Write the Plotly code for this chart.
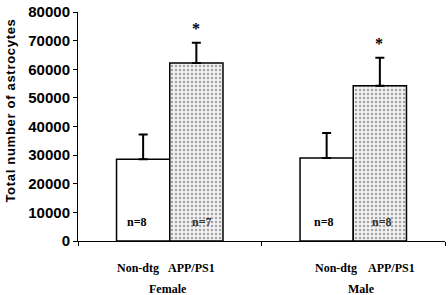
import plotly.graph_objects as go

groups = ["Female", "Male"]
nondtg_vals = [28600, 29000]
nondtg_err = [8600, 8700]
app_vals = [62200, 54200]
app_err = [7100, 9800]
n_nondtg = ["n=8", "n=8"]
n_app = ["n=7", "n=8"]
y_ticks = [0, 10000, 20000, 30000, 40000, 50000, 60000, 70000, 80000]
y_ticktext = ["0", "10000", "20000", "30000", "40000", "50000", "60000", "70000", "80000"]

serif = "Liberation Serif, Times New Roman, serif"
narrow = "Liberation Sans Narrow, Arial Narrow, Liberation Sans, Arial, sans-serif"
sans = "Liberation Sans, Arial, sans-serif"

fig = go.Figure()
fig.add_trace(go.Bar(
    x=groups, y=nondtg_vals, name="Non-dtg",
    marker=dict(color="white", line=dict(color="black", width=1.5)),
    error_y=dict(type="data", array=nondtg_err, arrayminus=[0, 0], symmetric=False,
                 color="black", thickness=2, width=4.5),
))
fig.add_trace(go.Bar(
    x=groups, y=app_vals, name="APP/PS1",
    marker=dict(color="white", line=dict(color="black", width=1.5),
                pattern=dict(shape=".", fgcolor="#555555", bgcolor="#f2f2f2", size=4, solidity=0.3)),
    error_y=dict(type="data", array=app_err, arrayminus=[0, 0], symmetric=False,
                 color="black", thickness=2, width=4.5),
))

ann = []
label_shift = {"Female": (-32, 22, -2), "Male": (-17, 38, 8)}
n_shift = {"Female": (-33, 32), "Male": (-29, 29)}
for i, g in enumerate(groups):
    s1, s2, s3 = label_shift[g]
    ann.append(dict(x=g, y=0, xref="x", yref="y", text="Non-dtg", showarrow=False,
                    xshift=s1, yshift=-27, font=dict(family=serif, size=12, color="black", weight="bold")))
    ann.append(dict(x=g, y=0, xref="x", yref="y", text="APP/PS1", showarrow=False,
                    xshift=s2, yshift=-27, font=dict(family=serif, size=12, color="black", weight="bold")))
    ann.append(dict(x=g, y=0, xref="x", yref="y", text=g, showarrow=False,
                    xshift=s3, yshift=-48, font=dict(family=serif, size=12, color="black", weight="bold")))
    a1, a2 = n_shift[g]
    ann.append(dict(x=g, y=0, xref="x", yref="y", text=n_nondtg[i], showarrow=False,
                    xshift=a1, yshift=19, font=dict(family=serif, size=12, color="black", weight="bold")))
    ann.append(dict(x=g, y=0, xref="x", yref="y", text=n_app[i], showarrow=False,
                    xshift=a2, yshift=19, font=dict(family=serif, size=12, color="#333", weight="bold")))
    ann.append(dict(x=g, y=app_vals[i] + app_err[i], xref="x", yref="y", text="*", showarrow=False,
                    xshift=26, yshift=14, font=dict(family=serif, size=16, color="black", weight="bold")))

ann.append(dict(x=0, y=0.57, xref="paper", yref="paper", text="Total number of astrocytes",
                textangle=-90, showarrow=False, xshift=-68, xanchor="center", yanchor="middle",
                font=dict(family=sans, size=13, color="black", weight="bold")))

fig.update_layout(
    width=448, height=295,
    margin=dict(l=78, r=3, t=9, b=54),
    paper_bgcolor="white", plot_bgcolor="white",
    barmode="group", bargap=0.42, bargroupgap=0,
    showlegend=False,
    annotations=ann,
    xaxis=dict(showticklabels=False, ticks="outside", tickson="boundaries", ticklen=4,
               tickcolor="black", showline=True, linecolor="black", linewidth=1,
               showgrid=False, zeroline=False),
    yaxis=dict(range=[0, 80000], tickvals=y_ticks, ticktext=y_ticktext, ticks="outside", ticklen=4,
               tickcolor="black", showline=True, linecolor="black", linewidth=1,
               showgrid=False, zeroline=False,
               tickfont=dict(family=narrow, size=15, color="black", weight="bold")),
)

post = """
document.body.style.margin = '0';
document.querySelectorAll('text.annotation-text').forEach(function(t){
  if (t.textContent.indexOf('Total') === 0) { t.style.letterSpacing = '0.7px'; }
});
"""
fig.write_html("out.html", post_script=post, config={"displayModeBar": False})
